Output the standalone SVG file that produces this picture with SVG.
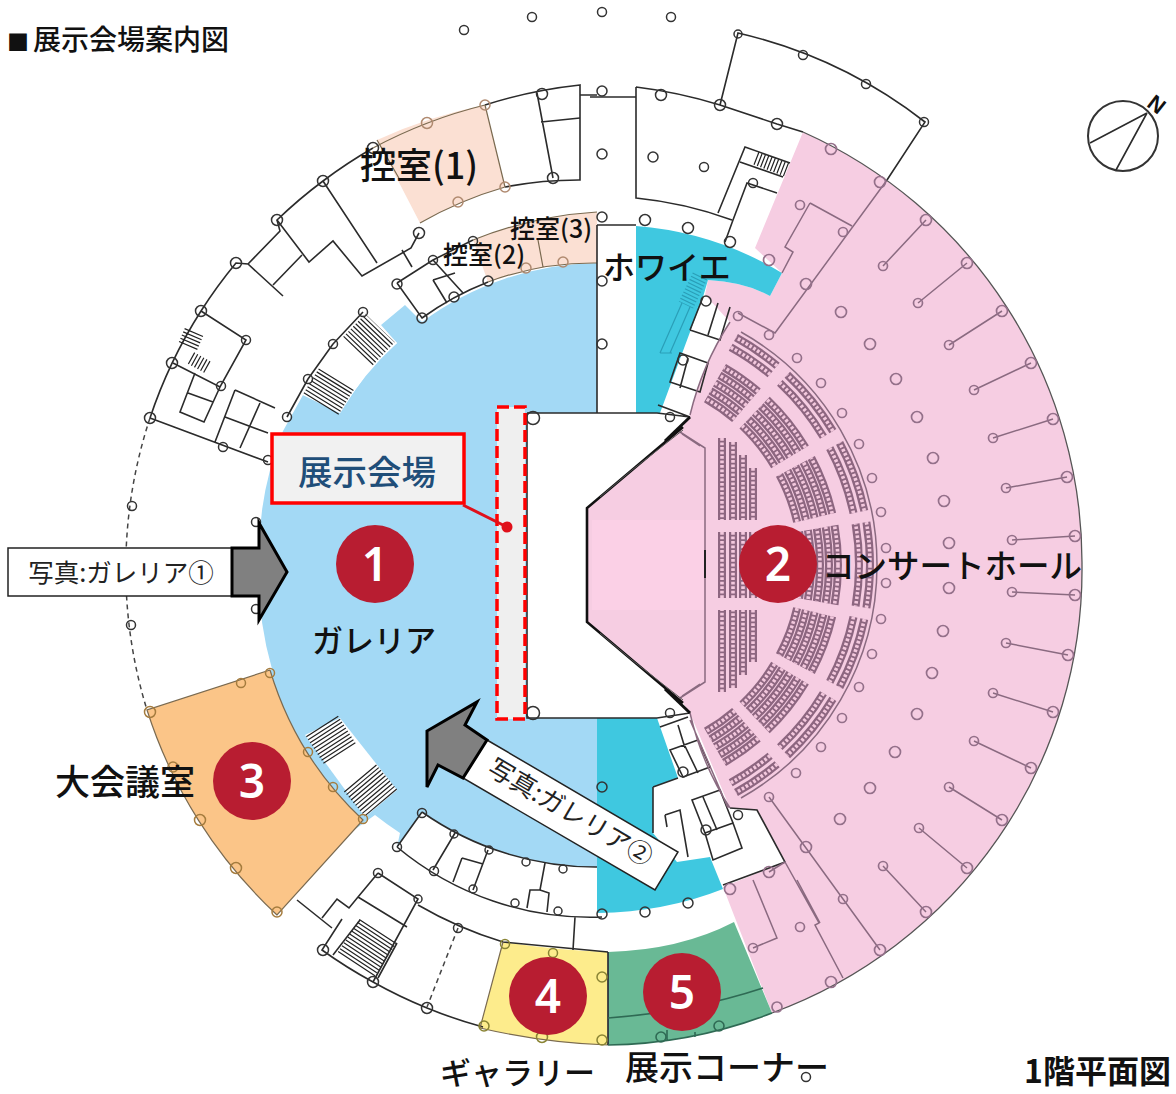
<svg xmlns="http://www.w3.org/2000/svg" xmlns:xlink="http://www.w3.org/1999/xlink" width="1176" height="1094" viewBox="0 0 1176 1094">
<style>
text{font-family:"Noto Sans CJK JP","Noto Sans",sans-serif;fill:#111;font-weight:500}
.l{fill:none;stroke:#2b2b2b;stroke-width:1.6}
.lg{fill:none;stroke:#8a6a80;stroke-width:1.5}
.lo{fill:none;stroke:#7a6a50;stroke-width:1.2}
.d{fill:none;stroke:#444;stroke-width:1.5;stroke-dasharray:5 4}
.c{fill:none;stroke:#333;stroke-width:1.5}
.h{fill:none;stroke:#94708a;stroke-width:1.7}
.t{fill:none;stroke:#b08a70;stroke-width:1.5}
.y{fill:none;stroke:#8a8434;stroke-width:1.5}
.g{fill:none;stroke:#2f6a54;stroke-width:1.6}
.o{fill:none;stroke:#a57c3e;stroke-width:1.5}
.w{fill:#fff;stroke:none}
.sb{fill:none;stroke:#8d6680;stroke-width:8}
.si{fill:none;stroke:#f3c8dd;stroke-width:3.6;stroke-dasharray:2.7 1.8}
.num circle{fill:#b81d31}
.num text{fill:#fff;font-family:"Noto Sans",sans-serif;font-weight:600;font-size:46px;text-anchor:middle}
.st{fill:none;stroke:#222;stroke-dasharray:1.2 2.3}
.ar{fill:#808080;stroke:#000;stroke-width:3;stroke-linejoin:miter}
</style>
<defs>
<path id="seats" d="M870,565A260,260 0 0 0 866.4,522.1M864.3,510.9A260,260 0 0 0 839.6,442.9M832.9,431.1A260,260 0 0 0 787.3,374.8M777.1,365.8A260,260 0 0 0 736,337.6
M859,565A249,249 0 0 0 855.6,523.9M853.5,513.2A249,249 0 0 0 829.8,448.1M823.4,436.8A249,249 0 0 0 779.8,382.9M770.1,374.3A249,249 0 0 0 730.7,347.2
M802,565A192,192 0 0 0 799.1,531.7M797.1,521.8A192,192 0 0 0 779.5,474.9M774.6,466.1A192,192 0 0 0 742.2,425.7M734.7,419A192,192 0 0 0 706,398.7
M811,565A201,201 0 0 0 807.9,530.1M805.9,519.8A201,201 0 0 0 787.5,470.6M782.3,461.5A201,201 0 0 0 748.4,419.2M740.5,412.2A201,201 0 0 0 710.5,390.9
M820,565A210,210 0 0 0 816.8,528.5M814.6,517.8A210,210 0 0 0 795.4,466.4M790,456.9A210,210 0 0 0 754.6,412.7M746.4,405.3A210,210 0 0 0 715,383.1
M829,565A219,219 0 0 0 825.7,527M823.4,515.7A219,219 0 0 0 803.4,462.2M797.7,452.2A219,219 0 0 0 760.8,406.1M752.2,398.5A219,219 0 0 0 719.5,375.3
M838,565A228,228 0 0 0 834.5,525.4M832.2,513.7A228,228 0 0 0 811.3,458M805.4,447.6A228,228 0 0 0 767,399.6M758.1,391.6A228,228 0 0 0 724,367.5
M722,438V520M733,442V520M743,455V520M753,468V520M722,532V565M733,532V565M743,532V565M753,532V565M763,532V565M773,532V565"/>
<g id="half">
<use xlink:href="#seats" href="#seats" class="sb"/>
<use xlink:href="#seats" href="#seats" class="si"/>
<path class="lg" d="M877,565A267,267 0 0 0 741,332"/>
<path class="lg" d="M705,565V448L680,432M700,446L682,434"/>
</g>
<g id="stage">
<path d="M587,565V508L683,427" fill="none" stroke="#111" stroke-width="2.6"/>
<path d="M600,497L632,470L683,430" fill="none" stroke="#555" stroke-width="1"/>
<path d="M665,441L690,417" fill="none" stroke="#111" stroke-width="3"/>
</g>
</defs>

<g id="floors">
<path fill="#a3d9f5" d="M597,263A302,302 0 0 0 422,322L405,305L381,325L397,343A302,302 0 0 0 340,413L303,395L283,431A338,338 0 0 0 259,565A338,338 0 0 0 272,669L250,700L340,840L375,815A332,332 0 0 0 400,833L397,847L422,812A302,302 0 0 0 597,867V718H527V413H597Z"/>
<path fill="#f6cde2" d="M803,132A472,472 0 0 1 1082,565A472,472 0 0 1 772,1013L723,887L785,862L757,810L730,808L690,713L683,703L587,622V508L683,427L690,415A300,300 0 0 1 730,322L705,295L708,280Q745,282 770,296L782,273L755,248Z"/>
<path fill="#fbd0e6" d="M592,520H704V610H592Z"/>
<path fill="#3fc8e0" d="M636,226A330,330 0 0 1 782,273L770,296Q745,282 708,280L703,297L660,413H636Z"/>
<path fill="#3fc8e0" d="M597,718H657L678,778L653,787V833L677,862L710,857L723,889Q665,912 597,913Z"/>
<path fill="#fbc588" d="M147,710L270,670A338,338 0 0 0 363,820L277,915A481,481 0 0 1 147,710Z"/>
<path fill="#fdec8c" d="M503,942Q555,950 608,952V1045Q545,1043 480,1028Z"/>
<path fill="#69b995" d="M608,952Q680,950 734,922L772,1013A472,472 0 0 1 608,1045Z"/>
<path fill="#fbe0d3" d="M377,140A481,481 0 0 1 485,105L505,187A390,390 0 0 0 420,223Z"/>
<path fill="#fbe0d3" d="M473,240A400,400 0 0 1 597,212V263A302,302 0 0 0 488,282Z"/>
<path class="w" d="M303,395L318,367L343,337L363,313L397,343L373,365L355,390L340,413Z"/>
<path class="w" d="M305,735L340,718L397,790L365,817Z"/>
</g>

<g id="plan-lines">
<path class="l" d="M150,418A481,481 0 0 1 201,311A481,481 0 0 1 236,263L248,264L283,296M248,264L280,231L277,220A481,481 0 0 1 323,181A481,481 0 0 1 373,148"/>
<path class="l" d="M273,285L302,255M277,220L309,262L333,241L362,276L411,248L419,233M323,181L377,263"/>
<path class="lo" d="M373,148A481,481 0 0 1 485,105"/>
<path class="l" d="M485,105A481,481 0 0 1 580,85V180A390,390 0 0 0 505,187"/>
<path class="lo" d="M505,187A390,390 0 0 0 420,223M485,105L505,187M377,140L400,180"/>
<path class="l" d="M537,93L553,178M541,122L580,118M580,95H597"/>
<path class="l" d="M201,311L246,340L220,387L173,363M195,373L180,412L204,422L220,387M188,393L213,402M150,418L268,462M235,390L275,408M235,390L215,442M260,403L240,448M225,417L268,433"/>
<path class="d" d="M150,418A481,481 0 0 0 147,710"/>
<path class="l" d="M397,283L433,260L473,240M397,283L422,318A302,302 0 0 1 488,282M433,280L447,303M433,280L455,273M433,260L463,293M402,250L412,267"/>
<path class="lo" d="M473,240A400,400 0 0 1 597,212M488,282A302,302 0 0 1 597,263M538,240L543,267"/>
<path class="l" d="M333,344L363,312M333,344L308,379L287,417"/>
<g fill="none">
<path class="st" stroke-width="41" d="M358,351L380,328"/>
<path class="st" stroke-width="41" d="M321,404L337,378"/>
<path class="st" stroke-width="38" d="M322,726L340,754"/>
<path class="st" stroke-width="42" d="M360,778L381,803"/>
<path class="st" stroke-width="44" d="M378,931L355,966"/>
<path class="st" stroke-width="14" d="M756,158L787,170"/>
<path class="st" stroke-width="20" d="M194,332L188,346"/>
<path class="st" stroke-width="13" d="M191,358L209,368"/>
<path class="st" style="stroke:#2a9fb8" stroke-width="16" d="M700,276L686,305"/>
</g>
<path fill="none" stroke="#2a9fb8" stroke-width="1.2" d="M682,303L660,353M690,307L670,353M660,353H672"/>
<path class="lo" d="M270,670L147,710A481,481 0 0 0 277,915L363,820A338,338 0 0 1 270,670"/>
<path class="l" d="M636,87A481,481 0 0 1 720,105L777,124L803,132M636,87V198A390,390 0 0 1 732,220M718,213L745,147L790,163M740,162L783,177M733,220L747,183L777,193M733,220L725,242M636,97H590"/>
<path class="l" d="M720,105L738,33A481,481 0 0 1 925,122L887,180"/>
<path class="l" d="M597,225V413M597,225H636"/>
<path class="l" d="M527,413H657L690,417M527,413V718H657L690,713M658,405L690,417"/>
<path class="l" d="M690,330L720,340L730,307M718,303L708,335M670,382L680,353L708,363L700,392ZM688,358L680,388M690,330L703,297"/>
<path class="l" d="M660,727L688,717M670,750L698,740L710,767L683,777ZM683,742L698,773M678,725L685,748M653,787L678,778M692,800L720,790L733,823L705,833ZM705,833L713,860L742,848L733,823M703,797L717,830M653,787V833M665,815L680,810L688,857M665,815L667,827M730,808L757,810L785,862L723,885"/>
<path class="l" d="M397,847L422,812M397,847A302,302 0 0 0 602,917M455,833L433,870M488,850L473,890M462,858L453,882M462,858L483,864M545,863L540,890L530,890L527,908M540,890L549,893L547,912M575,917L573,950M422,812A302,302 0 0 0 597,867"/>
<path class="l" d="M297,900L332,928M378,873L418,899L373,982M418,905A400,400 0 0 0 503,942L608,952M378,873L358,897L349,908L337,899L322,918M358,897L407,927M342,919L322,950A481,481 0 0 0 373,982A481,481 0 0 0 427,1008A481,481 0 0 0 483,1027M360,920L333,955M378,978L397,943"/>
<path class="d" d="M458,928L427,1007"/>
<path class="lo" d="M503,942L480,1028Q545,1043 608,1045"/>
<path d="M608,952V1045" stroke="#223" stroke-width="1.6"/>
<path class="g" d="M608,1018Q690,1012 763,988M608,1045A472,472 0 0 0 772,1013M667,1030V1040M695,1032V1037"/>
<path class="lg" d="M887,180L775,333L738,313M810,203L852,226M810,203L785,247L793,252L782,273"/>
<path class="lg" d="M730,322A300,300 0 0 0 690,415M730,808A300,300 0 0 1 690,713M690,720L728,808"/>
<path class="lg" d="M769,797L880,950M769,872L785,862M753,880L777,938L753,948M785,862L819,923L815,925L843,978M797,880L820,923"/>
<path class="lg" d="M926,220L883,266M967,263L918,303M1002,311L949,345M1031,363L974,390M1053,419L993,438M1067,477L1006,488M1075,536L1012,540M1075,595L1012,592M1068,655L1006,643M1053,712L993,693M1031,768L974,741M1002,820L949,787M967,868L919,828M926,912L883,866"/>
<path fill="none" stroke="#555" stroke-width="1.3" d="M803,132A472,472 0 0 1 1082,565A472,472 0 0 1 772,1013"/>
<use xlink:href="#half" href="#half"/>
<use xlink:href="#half" href="#half" transform="matrix(1 0 0 -1 0 1130)"/>
<use xlink:href="#stage" href="#stage"/>
<use xlink:href="#stage" href="#stage" transform="matrix(1 0 0 -1 0 1130)"/>
<path d="M705,550V578" stroke="#222" stroke-width="2"/>
</g>

<g id="columns">
<g class="c">
<circle cx="464" cy="30" r="4.5"/><circle cx="532" cy="17" r="4.5"/><circle cx="602" cy="12" r="4.5"/><circle cx="671" cy="17" r="4.5"/>
<circle cx="150" cy="418" r="5.5"/><circle cx="201" cy="311" r="5.5"/><circle cx="236" cy="263" r="5.5"/><circle cx="277" cy="220" r="5.5"/><circle cx="323" cy="181" r="5.5"/><circle cx="373" cy="148" r="5.5"/><circle cx="542" cy="94" r="5.5"/><circle cx="553" cy="178" r="5.5"/><circle cx="419" cy="233" r="5.5"/>
<circle cx="246" cy="340" r="4.5"/><circle cx="172" cy="363" r="5.5"/><circle cx="221" cy="386" r="4.5"/><circle cx="223" cy="447" r="4.5"/><circle cx="268" cy="460" r="4.5"/>
<circle cx="397" cy="284" r="5"/><circle cx="433" cy="260" r="4.5"/><circle cx="473" cy="241" r="4.5"/><circle cx="422" cy="318" r="5"/><circle cx="454" cy="297" r="5"/><circle cx="488" cy="281" r="5"/>
<circle cx="363" cy="312" r="4.5"/><circle cx="333" cy="344" r="4.5"/><circle cx="308" cy="379" r="4.5"/><circle cx="287" cy="417" r="4.5"/>
<circle cx="533" cy="418" r="6.5"/><circle cx="533" cy="713" r="6.5"/>
<circle cx="256" cy="522" r="4.5"/><circle cx="256" cy="609" r="4.5"/><circle cx="132" cy="506" r="4.5"/><circle cx="131" cy="625" r="4.5"/>
<circle cx="602" cy="91" r="5"/><circle cx="661" cy="95" r="5.5"/><circle cx="720" cy="105" r="5.5"/><circle cx="777" cy="124" r="5.5"/><circle cx="602" cy="154" r="5"/><circle cx="653" cy="157" r="5"/><circle cx="704" cy="167" r="4.5"/>
<circle cx="602" cy="217" r="5"/><circle cx="645" cy="220" r="5.5"/><circle cx="688" cy="228" r="5.5"/><circle cx="730" cy="242" r="5.5"/><circle cx="753" cy="183" r="4.5"/>
<circle cx="602" cy="281" r="5"/><circle cx="602" cy="344" r="5"/><circle cx="706" cy="301" r="5"/><circle cx="683" cy="360" r="5"/><circle cx="670" cy="417" r="4.5"/>
<circle cx="738" cy="34" r="4"/><circle cx="803" cy="55" r="4.5"/><circle cx="866" cy="84" r="4.5"/><circle cx="924" cy="122" r="4.5"/>
<circle cx="670" cy="713" r="4.5"/><circle cx="683" cy="772" r="5"/><circle cx="706" cy="830" r="5"/><circle cx="738" cy="815" r="4.5"/>
<circle cx="602" cy="787" r="5"/><circle cx="602" cy="914" r="5"/><circle cx="645" cy="912" r="5"/><circle cx="688" cy="903" r="5"/>
<circle cx="422" cy="813" r="4.5"/><circle cx="454" cy="834" r="4"/><circle cx="489" cy="850" r="4"/><circle cx="526" cy="862" r="4"/><circle cx="563" cy="869" r="4"/><circle cx="397" cy="847" r="4.5"/><circle cx="434" cy="871" r="4.5"/><circle cx="473" cy="889" r="4"/><circle cx="515" cy="903" r="4"/><circle cx="558" cy="911" r="4"/>
<circle cx="378" cy="873" r="4.5"/><circle cx="418" cy="899" r="4"/><circle cx="323" cy="950" r="5.5"/><circle cx="373" cy="982" r="5.5"/><circle cx="427" cy="1008" r="5.5"/><circle cx="458" cy="928" r="4.5"/>
<circle cx="806" cy="1077" r="4.5"/>
</g>
<g class="t"><circle cx="427" cy="123" r="5.5"/><circle cx="485" cy="105" r="5"/><circle cx="505" cy="187" r="5"/><circle cx="458" cy="202" r="5"/><circle cx="526" cy="268" r="5"/><circle cx="563" cy="262" r="5"/></g>
<g class="o"><circle cx="150" cy="712" r="5.5"/><circle cx="241" cy="683" r="4.5"/><circle cx="270" cy="673" r="4.5"/><circle cx="308" cy="752" r="4.5"/><circle cx="333" cy="787" r="4.5"/><circle cx="363" cy="819" r="4.5"/><circle cx="277" cy="912" r="5"/><circle cx="236" cy="868" r="5.5"/><circle cx="200" cy="820" r="5.5"/><circle cx="173" cy="767" r="5"/></g>
<g class="y"><circle cx="505" cy="944" r="4.5"/><circle cx="553" cy="953" r="4.5"/><circle cx="602" cy="977" r="5"/><circle cx="542" cy="1037" r="5.5"/><circle cx="602" cy="1040" r="5"/><circle cx="484" cy="1026" r="5"/></g>
<g class="g"><circle cx="661" cy="1037" r="5"/><circle cx="719" cy="1026" r="5"/></g>
<g class="h">
<circle cx="926" cy="220" r="5.5"/><circle cx="967" cy="263" r="5.5"/><circle cx="1002" cy="311" r="5.5"/><circle cx="1031" cy="363" r="5.5"/><circle cx="1053" cy="419" r="5.5"/><circle cx="1067" cy="477" r="5.5"/><circle cx="1075" cy="536" r="5.5"/><circle cx="1075" cy="595" r="5.5"/><circle cx="1068" cy="655" r="5.5"/><circle cx="1053" cy="712" r="5.5"/><circle cx="1031" cy="768" r="5.5"/><circle cx="1002" cy="820" r="5.5"/><circle cx="967" cy="868" r="5.5"/><circle cx="926" cy="912" r="5.5"/><circle cx="880" cy="950" r="5.5"/><circle cx="831" cy="982" r="5.5"/><circle cx="777" cy="1007" r="5"/>
<circle cx="883" cy="266" r="4.5"/><circle cx="918" cy="303" r="4.5"/><circle cx="949" cy="345" r="4.5"/><circle cx="974" cy="390" r="4.5"/><circle cx="993" cy="438" r="4.5"/><circle cx="1006" cy="488" r="4.5"/><circle cx="1012" cy="540" r="4.5"/><circle cx="1012" cy="592" r="4.5"/><circle cx="1006" cy="643" r="4.5"/><circle cx="993" cy="693" r="4.5"/><circle cx="974" cy="741" r="4.5"/><circle cx="949" cy="787" r="4.5"/><circle cx="919" cy="828" r="4.5"/><circle cx="883" cy="866" r="4.5"/>
<circle cx="949" cy="588" r="5.5"/><circle cx="943" cy="631" r="5.5"/><circle cx="932" cy="673" r="5.5"/><circle cx="917" cy="714" r="5.5"/><circle cx="895" cy="752" r="5.5"/><circle cx="870" cy="788" r="5.5"/><circle cx="840" cy="819" r="5.5"/><circle cx="806" cy="847" r="5.5"/>
<circle cx="949" cy="543" r="5.5"/><circle cx="944" cy="501" r="5.5"/><circle cx="933" cy="458" r="5.5"/><circle cx="917" cy="417" r="5.5"/><circle cx="896" cy="379" r="5.5"/><circle cx="870" cy="344" r="5.5"/><circle cx="841" cy="312" r="5.5"/>
<circle cx="886" cy="583" r="4.5"/><circle cx="881" cy="619" r="4.5"/><circle cx="872" cy="654" r="4.5"/><circle cx="859" cy="687" r="4.5"/><circle cx="842" cy="718" r="4.5"/><circle cx="821" cy="747" r="4.5"/><circle cx="796" cy="773" r="4.5"/>
<circle cx="886" cy="548" r="4.5"/><circle cx="881" cy="512" r="4.5"/><circle cx="872" cy="478" r="4.5"/><circle cx="859" cy="444" r="4.5"/><circle cx="842" cy="413" r="4.5"/><circle cx="821" cy="383" r="4.5"/><circle cx="797" cy="358" r="4.5"/>
<circle cx="806" cy="284" r="5.5"/><circle cx="769" cy="260" r="5.5"/><circle cx="738" cy="316" r="4.5"/><circle cx="769" cy="335" r="4.5"/><circle cx="843" cy="232" r="4.5"/><circle cx="800" cy="205" r="4.5"/><circle cx="831" cy="149" r="5.5"/><circle cx="880" cy="182" r="5.5"/>
<circle cx="769" cy="797" r="4.5"/><circle cx="843" cy="899" r="4.5"/><circle cx="769" cy="872" r="5.5"/><circle cx="730" cy="889" r="5.5"/><circle cx="753" cy="948" r="4.5"/><circle cx="800" cy="927" r="4.5"/>
</g>
</g>

<g id="compass">
<circle cx="1123" cy="136" r="35" class="c" style="stroke-width:2"/>
<path class="l" d="M1147,113L1090,143M1147,113L1116,170"/>
<text transform="translate(1157,104) rotate(38)" y="8" font-size="22" text-anchor="middle" style="font-family:'Liberation Sans',sans-serif;font-weight:700">N</text>
</g>

<g id="exhibit">
<rect x="497" y="407" width="28" height="312" fill="#efefef" stroke="#f00" stroke-width="3.5" stroke-dasharray="12 5"/>
<path d="M463,505L507,527" stroke="#e0101a" stroke-width="3" fill="none"/>
<circle cx="507" cy="527" r="5.5" fill="#e0101a"/>
<rect x="272" y="434" width="192" height="69" fill="#f1f1f1" stroke="#f00" stroke-width="3.5"/>
<text x="367" y="485" font-size="34.5" text-anchor="middle" style="fill:#1f4e79">展示会場</text>
</g>

<g id="photo1">
<rect x="8" y="548" width="224" height="48" fill="#fff" stroke="#222" stroke-width="1.5"/>
<path class="ar" d="M232,548H259V523L287,572L259,620V596H232Z"/>
<text x="121" y="582" font-size="25.5" text-anchor="middle" style="fill:#222;font-weight:400">写真:ガレリア①</text>
</g>
<g id="photo2">
<path d="M487,740L678,852L655,890L463,778Z" fill="#fff" stroke="#222" stroke-width="1.5"/>
<path class="ar" d="M487,740L465,725L477,702L427,731V787L438,765L463,778Z"/>
<text transform="translate(566,820) rotate(30.4)" font-size="25.5" text-anchor="middle" style="fill:#222;font-weight:400">写真:ガレリア②</text>
</g>

<g class="num">
<g id="n1"><circle cx="375" cy="564" r="39"/><text x="375" y="581">1</text></g>
<g id="n2"><circle cx="778" cy="564" r="39"/><text x="778" y="581">2</text></g>
<g id="n3"><circle cx="252" cy="781" r="39"/><text x="252" y="798">3</text></g>
<g id="n4"><circle cx="548" cy="996" r="39"/><text x="548" y="1013">4</text></g>
<g id="n5"><circle cx="682" cy="992" r="39"/><text x="682" y="1009">5</text></g>
</g>

<g id="labels">
<text y="50" font-size="28"><tspan x="7" font-size="22">■</tspan><tspan x="33">展示会場案内図</tspan></text>
<text x="360" y="179" font-size="36">控室(1)</text>
<text x="510" y="238" font-size="25">控室(3)</text>
<text x="443" y="264" font-size="25">控室(2)</text>
<text x="603" y="279" font-size="32">ホワイエ</text>
<text x="822" y="578" font-size="32.5">コンサートホール</text>
<text x="312" y="652" font-size="31">ガレリア</text>
<text x="55" y="795" font-size="35">大会議室</text>
<text x="440" y="1084" font-size="31">ギャラリー</text>
<text x="625" y="1080" font-size="34">展示コーナー</text>
<text x="1024" y="1083" font-size="32" style="font-weight:700">1階平面図</text>
</g>
</svg>
